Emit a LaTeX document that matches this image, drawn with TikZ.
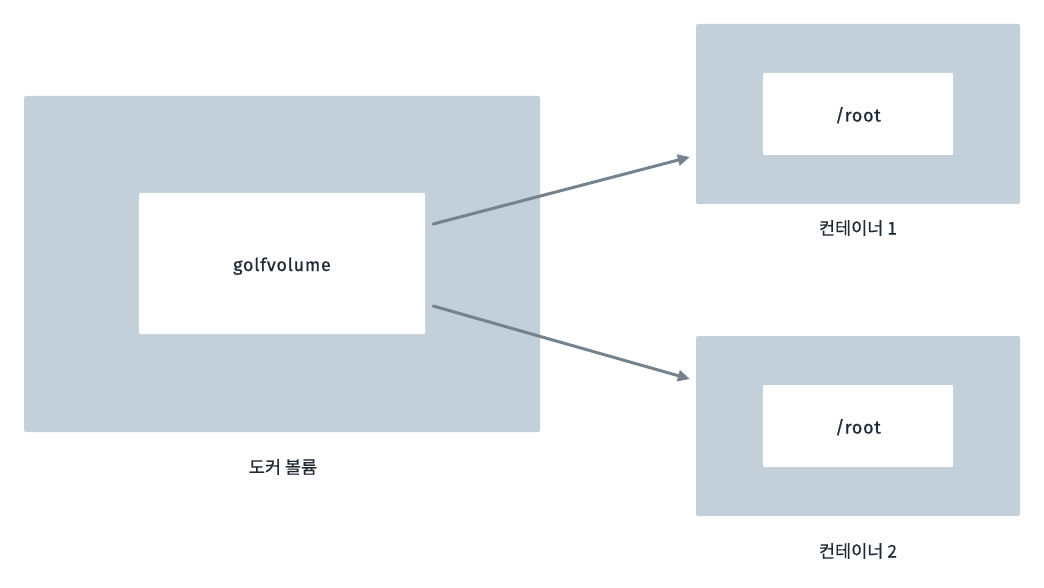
\documentclass[tikz,border=0pt]{standalone}
\usepackage{fontspec}
\setmainfont{Fira Sans}[AutoFakeBold=0.7, LetterSpace=4]
\newfontfamily\krfont{Noto Sans CJK KR}[AutoFakeBold=0.6]
\usetikzlibrary{arrows.meta,positioning}
\definecolor{boxgray}{HTML}{C3CFD9}
\definecolor{arrowgray}{HTML}{75838F}
\definecolor{textdark}{HTML}{1F2A35}

\tikzset{
  outerbox/.style={fill=boxgray, rounded corners=2pt, inner sep=0pt},
  innerbox/.style={fill=white, rounded corners=1pt, inner sep=0pt, text=textdark, font=\fontsize{18}{21}\selectfont\bfseries},
  caption/.style={text=textdark, font=\krfont\fontsize{17.5}{20}\selectfont\bfseries},
  link/.style={draw=arrowgray, line width=3pt, line cap=round, -{Triangle[length=12pt, width=11pt]}}
}
\newcommand{\lowered}[1]{\raisebox{-7.5pt}[0pt][0pt]{#1}}

\begin{document}
\begin{tikzpicture}[x=1pt, y=-1pt]
  \useasboundingbox (0,0) rectangle (1044,588);

  % -- Docker volume --
  \node[outerbox, minimum width=516pt, minimum height=336pt] (vol) at (282,264) {};
  \node[innerbox, minimum width=286pt, minimum height=141pt] (golf) at (282,263.5) {\lowered{golfvolume}};
  \node[caption] (volcap) at (283,467) {도커 볼륨};

  % -- Container 1 --
  \node[outerbox, minimum width=324pt, minimum height=180pt] (cont1) at (858,114) {};
  \node[innerbox, minimum width=190pt, minimum height=82pt] (root1) at (858,114) {\lowered{/root}};
  \node[caption] (cap1) at (858,228) {컨테이너 1};

  % -- Container 2 --
  \node[outerbox, minimum width=324pt, minimum height=180pt] (cont2) at (858,426) {};
  \node[innerbox, minimum width=190pt, minimum height=82pt] (root2) at (858,426) {\lowered{/root}};
  \node[caption] (cap2) at (858,551) {컨테이너 2};

  % -- Mounts --
  \draw[link] ([shift={(8,-39.5)}]golf.east) -- ([shift={(-6,43)}]cont1.west);
  \draw[link] ([shift={(8,42.5)}]golf.east) -- ([shift={(-6,-47)}]cont2.west);

\end{tikzpicture}
\end{document}
